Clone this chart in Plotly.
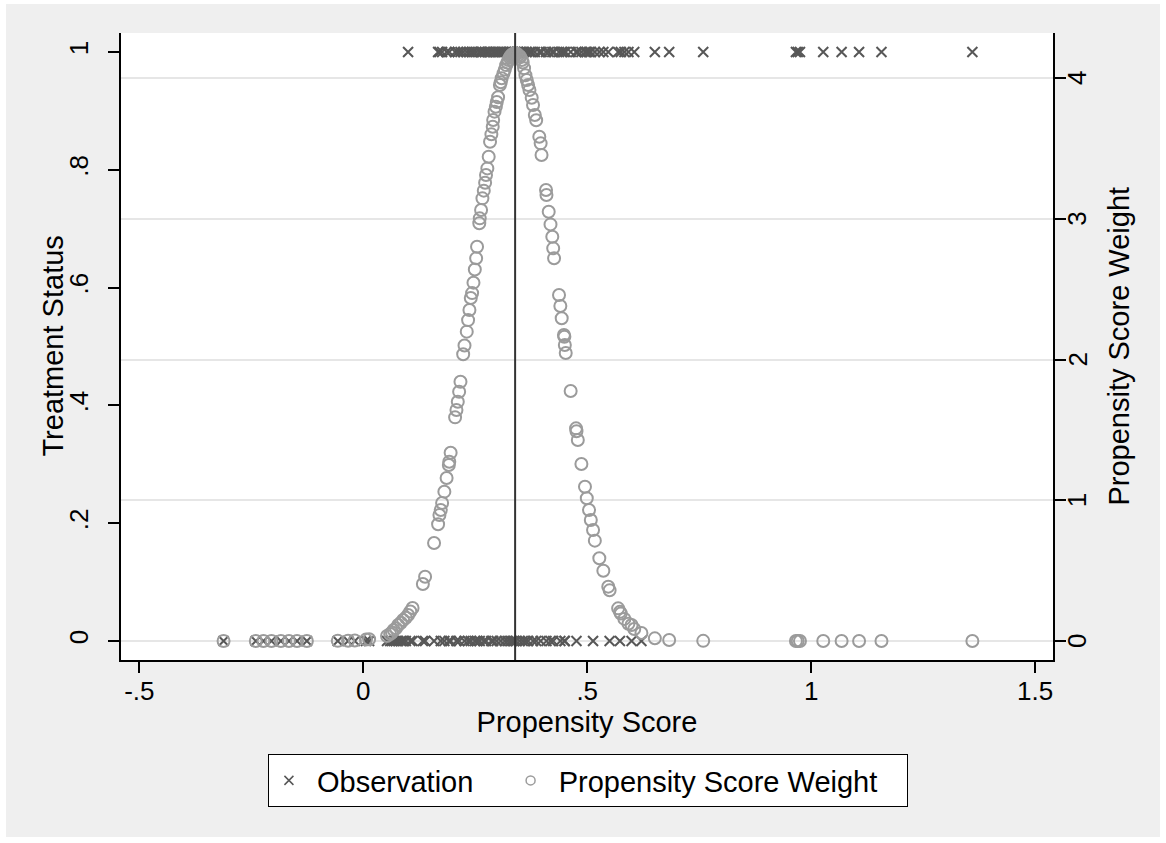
import plotly.graph_objects as go

# ---- data ----
# control units (treatment status 0): propensity score and weight
ps_control = [-0.312, -0.240, -0.223, -0.205, -0.184, -0.166, -0.148, -0.126, -0.057, -0.034,
              -0.019, 0.006, 0.013,
              0.053, 0.060, 0.064, 0.068, 0.073, 0.078, 0.084, 0.089, 0.095, 0.105,
              0.110, 0.133, 0.138, 0.158, 0.173, 0.181, 0.191, 0.195, 0.208, 0.214,
              0.226, 0.234, 0.240, 0.249, 0.254, 0.260, 0.269, 0.274, 0.286, 0.290,
              0.298, 0.307, 0.316, 0.322, 0.329, 0.333, 0.337, 0.341, 0.349, 0.356,
              0.362, 0.368, 0.379, 0.386, 0.396, 0.409, 0.418, 0.424, 0.440, 0.449,
              0.450, 0.476, 0.513, 0.550, 0.573, 0.599, 0.621]
w_control = [0.0, 0.0, 0.0, 0.0, 0.0, 0.0, 0.0, 0.0, 0.001, 0.002,
             0.004, 0.010, 0.012,
             0.036, 0.050, 0.060, 0.078, 0.090, 0.114, 0.130, 0.149, 0.165, 0.210,
             0.234, 0.405, 0.457, 0.696, 0.931, 1.061, 1.250, 1.338, 1.641, 1.771,
             2.100, 2.280, 2.437, 2.640, 2.801, 3.003, 3.200, 3.311, 3.600, 3.702,
             3.830, 3.970, 4.060, 4.110, 4.155, 4.168, 4.174, 4.174, 4.155, 4.110,
             4.020, 3.950, 3.808, 3.700, 3.536, 3.169, 2.960, 2.790, 2.380, 2.162,
             2.103, 1.490, 0.789, 0.360, 0.207, 0.114, 0.057]

# treated units (treatment status 1): propensity score and weight
ps_treated = [0.100, 0.167, 0.170, 0.176, 0.186, 0.192, 0.205, 0.211, 0.217, 0.223,
              0.231, 0.237, 0.243, 0.246, 0.252, 0.259, 0.263, 0.266, 0.272, 0.277,
              0.280, 0.283, 0.289, 0.293, 0.296, 0.301, 0.305, 0.309, 0.313, 0.319,
              0.324, 0.327, 0.331, 0.335, 0.339, 0.343, 0.346, 0.350, 0.354, 0.359,
              0.365, 0.371, 0.376, 0.383, 0.393, 0.398, 0.408, 0.414, 0.422, 0.426,
              0.437, 0.443, 0.448, 0.452, 0.463, 0.475, 0.479, 0.487, 0.495, 0.499,
              0.504, 0.508, 0.517, 0.527, 0.536, 0.547, 0.569, 0.575, 0.583, 0.592,
              0.605, 0.651, 0.683, 0.759, 0.966, 0.970, 0.975, 1.027, 1.068, 1.107,
              1.157, 1.360]
w_treated = [0.185, 0.830, 0.895, 0.980, 1.158, 1.274, 1.589, 1.700, 1.842, 2.037,
             2.198, 2.352, 2.472, 2.546, 2.719, 2.968, 3.062, 3.145, 3.256, 3.358,
             3.441, 3.547, 3.654, 3.761, 3.796, 3.863, 3.950, 3.998, 4.033, 4.092,
             4.128, 4.145, 4.163, 4.172, 4.175, 4.172, 4.163, 4.150, 4.128, 4.070,
             3.986, 3.915, 3.860, 3.737, 3.583, 3.453, 3.204, 3.050, 2.872, 2.719,
             2.458, 2.293, 2.174, 2.046, 1.776, 1.511, 1.428, 1.258, 1.096, 1.014,
             0.931, 0.860, 0.713, 0.588, 0.499, 0.386, 0.232, 0.195, 0.157, 0.123,
             0.085, 0.019, 0.007, 0.001, 0.0, 0.0, 0.0, 0.0, 0.0, 0.0,
             0.0, 0.0]

status_control = [0] * len(ps_control)
status_treated = [1] * len(ps_treated)

ps_mean = 0.339  # vertical reference line

x_tickvals = [-0.5, 0, 0.5, 1, 1.5]
x_ticktext = ["-.5", "0", ".5", "1", "1.5"]
y_tickvals = [0, 0.2, 0.4, 0.6, 0.8, 1]
y_ticktext = ["0", ".2", ".4", ".6", ".8", "1"]
y2_tickvals = [0, 1, 2, 3, 4]
y2_ticktext = ["0", "1", "2", "3", "4"]

x_title = "Propensity Score"
y_title = "Treatment Status"
y2_title = "Propensity Score Weight"
legend_names = ["Observation", "Propensity Score Weight"]

# ---- figure ----
FONT = "Liberation Sans, Arial, sans-serif"
X_COLOR = "#575757"
O_COLOR = "#9b9b9b"
TICK_SIZE = 26
TITLE_SIZE = 29
NB = "\u00a0"

ps_all = ps_control + ps_treated
status_all = status_control + status_treated
w_all = w_control + w_treated

fig = go.Figure()

fig.add_trace(go.Scatter(
    x=ps_all, y=status_all, mode="markers", yaxis="y",
    marker=dict(symbol="x-thin-open", size=10, color=X_COLOR,
                line=dict(width=2, color=X_COLOR)),
    showlegend=False, hoverinfo="skip"))

fig.add_trace(go.Scatter(
    x=ps_all, y=w_all, mode="markers", yaxis="y2",
    marker=dict(symbol="circle-open", size=12, color=O_COLOR,
                line=dict(width=2, color=O_COLOR)),
    showlegend=False, hoverinfo="skip"))

# legend entries (small symbols as in the reference)
fig.add_trace(go.Scatter(
    x=[None], y=[None], mode="markers", name=NB + legend_names[0] + NB * 4,
    marker=dict(symbol="x-thin-open", size=9, color=X_COLOR,
                line=dict(width=1.5, color=X_COLOR))))
fig.add_trace(go.Scatter(
    x=[None], y=[None], mode="markers", name=NB + legend_names[1] + NB * 3, yaxis="y2",
    marker=dict(symbol="circle-open", size=9, color=O_COLOR,
                line=dict(width=1.5, color=O_COLOR))))

axis_common = dict(
    showline=True, linecolor="black", linewidth=1.5,
    ticks="outside", ticklen=11, tickwidth=1.5, tickcolor="black",
    zeroline=False, tickfont=dict(family=FONT, size=TICK_SIZE, color="black"),
)

# right-axis tick labels placed as rotated annotations
right_labels = [
    dict(text=t, xref="paper", yref="y2", x=1.0258, y=v,
         xanchor="center", yanchor="middle", textangle=-90, showarrow=False,
         font=dict(family=FONT, size=TICK_SIZE, color="black"))
    for v, t in zip(y2_tickvals, y2_ticktext)
]

fig.update_layout(
    width=1166, height=843,
    margin=dict(l=121, r=113, t=33, b=183),
    paper_bgcolor="white", plot_bgcolor="white",
    font=dict(family=FONT, size=TITLE_SIZE, color="black"),
    xaxis=dict(range=[-0.541, 1.540], tickmode="array", tickvals=x_tickvals,
               ticktext=x_ticktext, showgrid=False, ticklabelstandoff=-4,
               title=dict(text=x_title, font=dict(size=TITLE_SIZE), standoff=2),
               **axis_common),
    yaxis=dict(range=[-0.0323, 1.0323], tickmode="array", tickvals=y_tickvals,
               ticktext=y_ticktext, tickangle=-90, showgrid=False, ticklabelstandoff=10,
               **axis_common),
    yaxis2=dict(range=[-0.135, 4.32], overlaying="y", side="right", anchor="x",
                tickmode="array", tickvals=y2_tickvals, showticklabels=False,
                showgrid=True, gridcolor="#e6e6e6", gridwidth=2,
                **axis_common),
    legend=dict(orientation="h", x=0.501, xanchor="center", y=-0.15, yanchor="top",
                bgcolor="white", bordercolor="black", borderwidth=1,
                font=dict(family=FONT, size=TITLE_SIZE, color="black")),
    annotations=[
        dict(text=y_title, xref="paper", yref="paper", x=-0.0740, y=0.5,
             xanchor="center", yanchor="middle", textangle=-90, showarrow=False,
             font=dict(family=FONT, size=TITLE_SIZE, color="black")),
        dict(text=y2_title, xref="paper", yref="paper", x=1.0698, y=0.5,
             xanchor="center", yanchor="middle", textangle=-90, showarrow=False,
             font=dict(family=FONT, size=TITLE_SIZE, color="black")),
    ] + right_labels,
    shapes=[
        # grey outer frame with a hole over the plot region
        dict(type="path", xref="paper", yref="paper", layer="below",
             path=("M -0.1234,-0.2823 L 1.1148,-0.2823 L 1.1148,1.0463 "
                   "L -0.1234,1.0463 Z M 0,0 L 1,0 L 1,1 L 0,1 Z"),
             fillcolor="#efefef", fillrule="evenodd", line=dict(width=0)),
        dict(type="line", xref="x", yref="paper", x0=ps_mean, x1=ps_mean,
             y0=0, y1=1, line=dict(color="#333333", width=2), layer="above"),
    ],
)

fig.write_html("out.html", config={"displayModeBar": False},
               post_script="document.body.style.margin='0';")
